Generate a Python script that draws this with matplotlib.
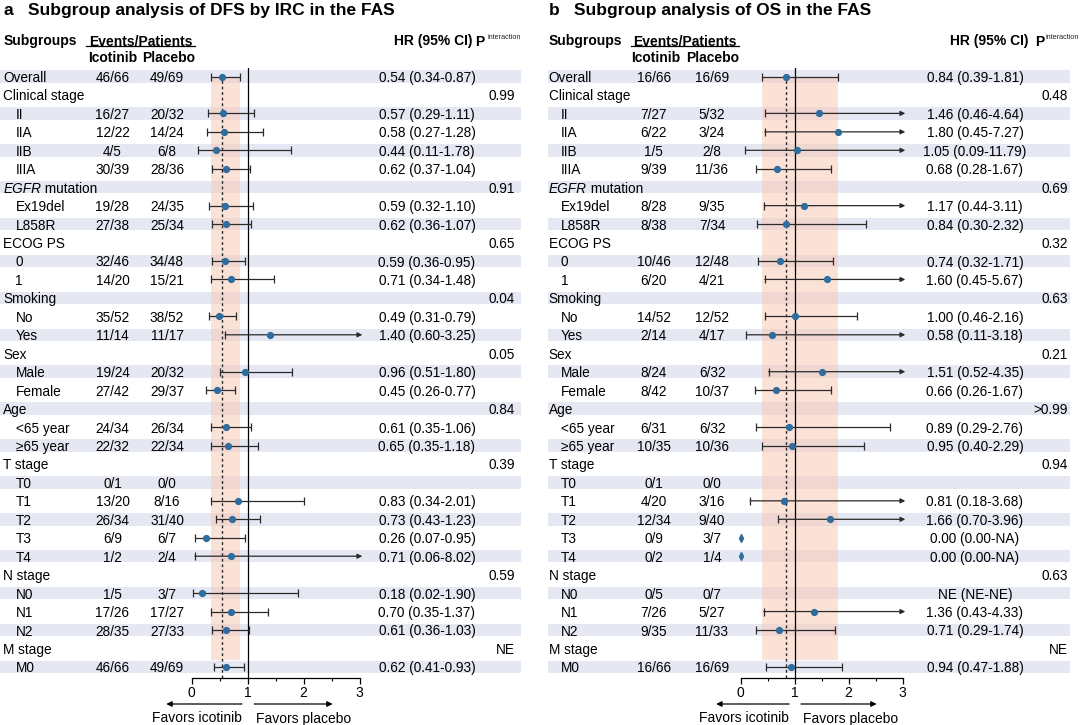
import numpy as np
import matplotlib
matplotlib.use("Agg")
import matplotlib.pyplot as plt
from matplotlib.ticker import MultipleLocator

plt.rcParams['font.family'] = ['Liberation Sans', 'DejaVu Sans']

nan = np.nan

# ---------------- data ----------------
subgroups = ["Overall", "Clinical stage", "II", "IIA", "IIB", "IIIA",
             "EGFR mutation", "Ex19del", "L858R", "ECOG PS", "0", "1",
             "Smoking", "No", "Yes", "Sex", "Male", "Female", "Age",
             "<65 year", "≥65 year", "T stage", "T0", "T1", "T2", "T3", "T4",
             "N stage", "N0", "N1", "N2", "M stage", "M0"]
categories = ["Overall", "Clinical stage", "EGFR mutation", "ECOG PS", "Smoking",
              "Sex", "Age", "T stage", "N stage", "M stage"]

# Panel a: DFS by IRC
dfs_icotinib = ["46/66", "", "16/27", "12/22", "4/5", "30/39", "", "19/28", "27/38", "",
                "32/46", "14/20", "", "35/52", "11/14", "", "19/24", "27/42", "",
                "24/34", "22/32", "", "0/1", "13/20", "26/34", "6/9", "1/2", "",
                "1/5", "17/26", "28/35", "", "46/66"]
dfs_placebo = ["49/69", "", "20/32", "14/24", "6/8", "28/36", "", "24/35", "25/34", "",
               "34/48", "15/21", "", "38/52", "11/17", "", "20/32", "29/37", "",
               "26/34", "22/34", "", "0/0", "8/16", "31/40", "6/7", "2/4", "",
               "3/7", "17/27", "27/33", "", "49/69"]
dfs_hr = [0.54, nan, 0.57, 0.58, 0.44, 0.62, nan, 0.59, 0.62, nan, 0.59, 0.71, nan,
          0.49, 1.40, nan, 0.96, 0.45, nan, 0.61, 0.65, nan, nan, 0.83, 0.73, 0.26,
          0.71, nan, 0.18, 0.70, 0.61, nan, 0.62]
dfs_lo = [0.34, nan, 0.29, 0.27, 0.11, 0.37, nan, 0.32, 0.36, nan, 0.36, 0.34, nan,
          0.31, 0.60, nan, 0.51, 0.26, nan, 0.35, 0.35, nan, nan, 0.34, 0.43, 0.07,
          0.06, nan, 0.02, 0.35, 0.36, nan, 0.41]
dfs_hi = [0.87, nan, 1.11, 1.28, 1.78, 1.04, nan, 1.10, 1.07, nan, 0.95, 1.48, nan,
          0.79, 3.25, nan, 1.80, 0.77, nan, 1.06, 1.18, nan, nan, 2.01, 1.23, 0.95,
          8.02, nan, 1.90, 1.37, 1.03, nan, 0.93]
dfs_hr_text = ["0.54 (0.34-0.87)", "", "0.57 (0.29-1.11)", "0.58 (0.27-1.28)",
               "0.44 (0.11-1.78)", "0.62 (0.37-1.04)", "", "0.59 (0.32-1.10)",
               "0.62 (0.36-1.07)", "", "0.59 (0.36-0.95)", "0.71 (0.34-1.48)", "",
               "0.49 (0.31-0.79)", "1.40 (0.60-3.25)", "", "0.96 (0.51-1.80)",
               "0.45 (0.26-0.77)", "", "0.61 (0.35-1.06)", "0.65 (0.35-1.18)", "",
               "", "0.83 (0.34-2.01)", "0.73 (0.43-1.23)", "0.26 (0.07-0.95)",
               "0.71 (0.06-8.02)", "", "0.18 (0.02-1.90)", "0.70 (0.35-1.37)",
               "0.61 (0.36-1.03)", "", "0.62 (0.41-0.93)"]
dfs_p = ["", "0.99", "", "", "", "", "0.91", "", "", "0.65", "", "", "0.04", "", "",
         "0.05", "", "", "0.84", "", "", "0.39", "", "", "", "", "", "0.59", "", "",
         "", "NE", ""]

# Panel b: OS
os_icotinib = ["16/66", "", "7/27", "6/22", "1/5", "9/39", "", "8/28", "8/38", "",
               "10/46", "6/20", "", "14/52", "2/14", "", "8/24", "8/42", "",
               "6/31", "10/35", "", "0/1", "4/20", "12/34", "0/9", "0/2", "",
               "0/5", "7/26", "9/35", "", "16/66"]
os_placebo = ["16/69", "", "5/32", "3/24", "2/8", "11/36", "", "9/35", "7/34", "",
              "12/48", "4/21", "", "12/52", "4/17", "", "6/32", "10/37", "",
              "6/32", "10/36", "", "0/0", "3/16", "9/40", "3/7", "1/4", "",
              "0/7", "5/27", "11/33", "", "16/69"]
os_hr = [0.84, nan, 1.46, 1.80, 1.05, 0.68, nan, 1.17, 0.84, nan, 0.74, 1.60, nan,
         1.00, 0.58, nan, 1.51, 0.66, nan, 0.89, 0.95, nan, nan, 0.81, 1.66, 0.00,
         0.00, nan, nan, 1.36, 0.71, nan, 0.94]
os_lo = [0.39, nan, 0.46, 0.45, 0.09, 0.28, nan, 0.44, 0.30, nan, 0.32, 0.45, nan,
         0.46, 0.11, nan, 0.52, 0.26, nan, 0.29, 0.40, nan, nan, 0.18, 0.70, nan,
         nan, nan, nan, 0.43, 0.29, nan, 0.47]
os_hi = [1.81, nan, 4.64, 7.27, 11.79, 1.67, nan, 3.11, 2.32, nan, 1.71, 5.67, nan,
         2.16, 3.18, nan, 4.35, 1.67, nan, 2.76, 2.29, nan, nan, 3.68, 3.96, nan,
         nan, nan, nan, 4.33, 1.74, nan, 1.88]
os_hr_text = ["0.84 (0.39-1.81)", "", "1.46 (0.46-4.64)", "1.80 (0.45-7.27)",
              "1.05 (0.09-11.79)", "0.68 (0.28-1.67)", "", "1.17 (0.44-3.11)",
              "0.84 (0.30-2.32)", "", "0.74 (0.32-1.71)", "1.60 (0.45-5.67)", "",
              "1.00 (0.46-2.16)", "0.58 (0.11-3.18)", "", "1.51 (0.52-4.35)",
              "0.66 (0.26-1.67)", "", "0.89 (0.29-2.76)", "0.95 (0.40-2.29)", "",
              "", "0.81 (0.18-3.68)", "1.66 (0.70-3.96)", "0.00 (0.00-NA)",
              "0.00 (0.00-NA)", "", "NE (NE-NE)", "1.36 (0.43-4.33)",
              "0.71 (0.29-1.74)", "", "0.94 (0.47-1.88)"]
os_p = ["", "0.48", "", "", "", "", "0.69", "", "", "0.32", "", "", "0.63", "", "",
        "0.21", "", "", ">0.99", "", "", "0.94", "", "", "", "", "", "0.63", "", "",
        "", "NE", ""]

x_ticks = [0, 1, 2, 3]

# ---------------- style / layout ----------------
STRIPE = "#e5e8f2"
BAND = "#f9c6b0"
DOT = "#2e6d9e"
LINE = "#2a2a2a"
FS = 9.8

W, H = 1080, 725
ROW0, ROWH = 76.5, 18.45


def row_of(py):
    return (py - ROW0) / ROWH


fig = plt.figure(figsize=(W / 100, H / 100), dpi=100)
bg = fig.add_axes([0, 0, 1, 1])
bg.set_xlim(0, W)
bg.set_ylim(row_of(H), row_of(0))
bg.axis('off')

panels = [
    dict(letter="a", title="Subgroup analysis of DFS by IRC in the FAS",
         ico=dfs_icotinib, pla=dfs_placebo, hr=dfs_hr, lo=dfs_lo, hi=dfs_hi,
         hrtext=dfs_hr_text, p=dfs_p,
         x_letter=3.4, x_title=27.5, x_base=3.3, x_ind=15.5,
         x_ico=112.5, x_pla=167.0, x_ico_h=112.8, x_pla_h=169.0,
         ul=(86, 195), x_hr=427, x_hrh=472.7, x_P=475.5, x_int=487.5, x_p=515,
         stripe=(0, 520.7), ax0=191.5, ax3=359.5),
    dict(letter="b", title="Subgroup analysis of OS in the FAS",
         ico=os_icotinib, pla=os_placebo, hr=os_hr, lo=os_lo, hi=os_hi,
         hrtext=os_hr_text, p=os_p,
         x_letter=548.6, x_title=574.4, x_base=548.6, x_ind=560.7,
         x_ico=653.6, x_pla=712.0, x_ico_h=656.0, x_pla_h=713.0,
         ul=(631, 739), x_hr=975, x_hrh=1029, x_P=1035.5, x_int=1045, x_p=1067.5,
         stripe=(547.6, 1070), ax0=740.5, ax3=902.6),
]

rows = np.arange(len(subgroups))
AX_TOP, AX_BOT = 68, 678

for P in panels:
    # title
    bg.text(P['x_letter'], row_of(9), P['letter'], fontsize=12.5, fontweight='bold',
            ha='left', va='center_baseline')
    bg.text(P['x_title'], row_of(9), P['title'], fontsize=12.5, fontweight='bold',
            ha='left', va='center_baseline')
    # headers
    hy1, hy2 = row_of(40), row_of(57)
    bg.text(P['x_base'], hy1, "Subgroups", fontsize=10, fontweight='bold',
            ha='left', va='center_baseline')
    bg.text((P['ul'][0] + P['ul'][1]) / 2, hy1, "Events/Patients", fontsize=10,
            fontweight='bold', ha='center', va='center_baseline')
    bg.plot(P['ul'], [row_of(46)] * 2, color='black', lw=0.9)
    bg.text(P['x_ico_h'], hy2, "Icotinib", fontsize=10, fontweight='bold',
            ha='center', va='center_baseline')
    bg.text(P['x_pla_h'], hy2, "Placebo", fontsize=10, fontweight='bold',
            ha='center', va='center_baseline')
    bg.text(P['x_hrh'], hy1, "HR (95% CI)", fontsize=10, fontweight='bold',
            ha='right', va='center_baseline')
    bg.text(P['x_P'], hy1, "P", fontsize=10, fontweight='bold',
            ha='left', va='center_baseline')
    bg.text(P['x_int'], row_of(36.5), "interaction", fontsize=5.2,
            ha='left', va='center_baseline', color='#222222')

    # stripes
    even = rows[::2]
    bg.barh(even, P['stripe'][1] - P['stripe'][0], left=P['stripe'][0], height=0.68,
            color=STRIPE, zorder=0, linewidth=0)

    # table text
    for i, name in enumerate(subgroups):
        x = P['x_base'] if name in categories else P['x_ind']
        if name == "EGFR mutation":
            t = bg.text(x, i, "EGFR", fontsize=FS, style='italic', ha='left',
                        va='center_baseline')
            bg.annotate(" mutation", xy=(1, 0), xycoords=t, fontsize=FS,
                        ha='left', va='bottom')
        else:
            bg.text(x, i, name, fontsize=FS, ha='left', va='center_baseline')
        if P['ico'][i]:
            bg.text(P['x_ico'], i, P['ico'][i], fontsize=FS, ha='center',
                    va='center_baseline')
        if P['pla'][i]:
            bg.text(P['x_pla'], i, P['pla'][i], fontsize=FS, ha='center',
                    va='center_baseline')
        if P['hrtext'][i]:
            bg.text(P['x_hr'], i, P['hrtext'][i], fontsize=FS, ha='center',
                    va='center_baseline')
        if P['p'][i]:
            bg.text(P['x_p'], i, P['p'][i], fontsize=FS, ha='right',
                    va='center_baseline')

    # forest axes
    ax = fig.add_axes([P['ax0'] / W, 1 - AX_BOT / H, (P['ax3'] - P['ax0']) / W,
                       (AX_BOT - AX_TOP) / H])
    ax.set_xlim(x_ticks[0], x_ticks[-1])
    ax.set_ylim(row_of(AX_BOT), row_of(AX_TOP))
    ax.patch.set_alpha(0)
    for s in ['top', 'right', 'left']:
        ax.spines[s].set_visible(False)
    ax.spines['bottom'].set_linewidth(0.9)
    ax.set_yticks([])
    ax.set_xticks(x_ticks)
    ax.xaxis.set_minor_locator(MultipleLocator(0.5))
    ax.tick_params(axis='x', which='major', length=4, width=0.9, pad=2, labelsize=10)
    ax.tick_params(axis='x', which='minor', length=2.5, width=0.8)

    hr = np.array(P['hr'])
    lo = np.array(P['lo'])
    hi = np.array(P['hi'])

    # overall CI band, overall HR dashed line, null line
    ax.fill_betweenx([0, 31.65], lo[0], hi[0], color=BAND, alpha=0.5, lw=0, zorder=1)
    ax.plot([hr[0], hr[0]], [row_of(75), row_of(AX_BOT)], color=LINE, lw=1.0,
            dashes=(2, 2), zorder=2)
    ax.axvline(1, color='black', lw=0.9, zorder=2)

    for i in rows:
        if np.isnan(hr[i]):
            continue
        if np.isnan(hi[i]):
            ax.plot(hr[i], i, marker='d', ms=4.2, color=DOT, mec=DOT, zorder=5,
                    clip_on=False)
            continue
        if hi[i] > x_ticks[-1]:
            ax.annotate('', xy=(3.05, i), xytext=(lo[i], i),
                        arrowprops=dict(arrowstyle='-|>', color=LINE, lw=0.9,
                                        mutation_scale=7, shrinkA=0, shrinkB=0),
                        annotation_clip=False, zorder=3)
        else:
            ax.hlines(i, lo[i], hi[i], color=LINE, lw=0.9, zorder=3)
            ax.plot([hi[i]], [i], marker='|', ms=5.5, mew=0.9, color=LINE, zorder=3)
        ax.plot([lo[i]], [i], marker='|', ms=5.5, mew=0.9, color=LINE, zorder=3,
                clip_on=False)
        ax.plot(hr[i], i, marker='o', ms=4.2, color=DOT, mec=DOT, zorder=5)

    # favours arrows
    ya = row_of(704)
    ax.annotate('', xy=(-0.45, ya), xytext=(0.9, ya),
                arrowprops=dict(arrowstyle='-|>', color='black', lw=0.9,
                                mutation_scale=8, shrinkA=0, shrinkB=0),
                annotation_clip=False)
    ax.annotate('', xy=(2.52, ya), xytext=(1.12, ya),
                arrowprops=dict(arrowstyle='-|>', color='black', lw=0.9,
                                mutation_scale=8, shrinkA=0, shrinkB=0),
                annotation_clip=False)
    yf = row_of(717)
    ax.text(0.9, yf, "Favors icotinib", fontsize=10, ha='right', va='center_baseline',
            clip_on=False)
    ax.text(1.16, yf, "Favors placebo", fontsize=10, ha='left', va='center_baseline',
            clip_on=False)

fig.savefig("out.png", dpi=100)
